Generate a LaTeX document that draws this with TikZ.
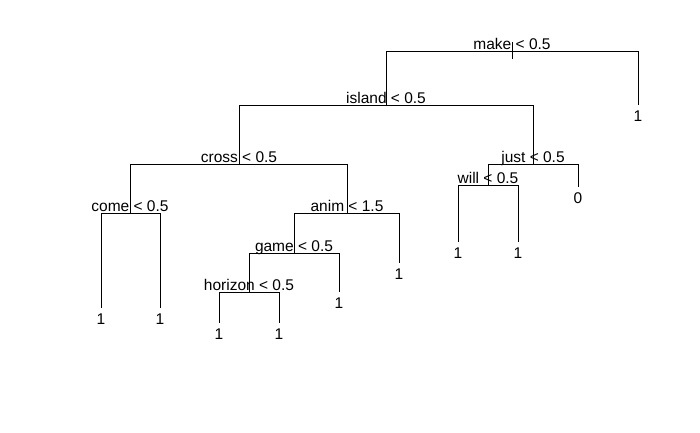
\documentclass[tikz,border=0pt]{standalone}
\usepackage{fontspec}
\setmainfont{Liberation Sans}
\begin{document}
\begin{tikzpicture}[x=1pt,y=-1pt,
  edge/.style={draw=black,line width=1pt},
  split/.style={anchor=base,inner sep=0pt,font=\fontsize{15.5}{18}\selectfont},
  leaf/.style={anchor=base,inner sep=0pt,font=\fontsize{15.5}{18}\selectfont}]
\useasboundingbox[fill=white] (0,0) rectangle (700,432);
% split points
\coordinate (rtop) at (512,42);
\coordinate (rbot) at (512,59);
\coordinate (root) at (512,51);
\coordinate (rootL) at (386,51);
\coordinate (rootR) at (638,51);
\coordinate (island) at (386,105);
\coordinate (islandL) at (239,105);
\coordinate (islandR) at (533,105);
\coordinate (cross) at (239,164);
\coordinate (crossL) at (130,164);
\coordinate (crossR) at (347,164);
\coordinate (come) at (130,213);
\coordinate (comeL) at (101,213);
\coordinate (comeR) at (160,213);
\coordinate (anim) at (347,213);
\coordinate (animL) at (294,213);
\coordinate (animR) at (399,213);
\coordinate (game) at (294,253);
\coordinate (gameL) at (249,253);
\coordinate (gameR) at (339,253);
\coordinate (horizon) at (249,292);
\coordinate (horizonL) at (219,292);
\coordinate (horizonR) at (279,292);
\coordinate (just) at (533,164);
\coordinate (justL) at (488,164);
\coordinate (justR) at (578,164);
\coordinate (will) at (488,185);
\coordinate (willL) at (458,185);
\coordinate (willR) at (518,185);
% leaf ends
\coordinate (l1) at (638,105);
\coordinate (l2) at (101,308);
\coordinate (l3) at (160,308);
\coordinate (l4) at (399,263);
\coordinate (l5) at (339,292);
\coordinate (l6) at (219,323);
\coordinate (l7) at (279,323);
\coordinate (l8) at (578,187);
\coordinate (l9) at (458,242);
\coordinate (l10) at (518,242);
% split labels
\node[split] (tmake) at (512,49) {make < 0.5};
\node[split] (tisland) at (386,103) {island < 0.5};
\node[split] (tcross) at (239,162) {cross < 0.5};
\node[split] (tcome) at (130,211) {come < 0.5};
\node[split] (tanim) at (347,211) {anim < 1.5};
\node[split] (tgame) at (294,251) {game < 0.5};
\node[split] (thorizon) at (249,290) {horizon < 0.5};
\node[split] (tjust) at (533,162) {just < 0.5};
\node[split] (twill) at (488,183) {will < 0.5};
% leaf labels
\node[leaf] (v1) at (638,121) {1};
\node[leaf] (v2) at (101,324) {1};
\node[leaf] (v3) at (160,324) {1};
\node[leaf] (v4) at (399,279) {1};
\node[leaf] (v5) at (339,308) {1};
\node[leaf] (v6) at (219,339) {1};
\node[leaf] (v7) at (279,339) {1};
\node[leaf] (v8) at (578,203) {0};
\node[leaf] (v9) at (458,258) {1};
\node[leaf] (v10) at (518,258) {1};
% edges
\draw[edge] (rtop) -- (rbot);
\draw[edge] (rootL) -- (rootR);
\draw[edge] (rootR) -- (l1);
\draw[edge] (rootL) -- (island);
\draw[edge] (islandL) -- (islandR);
\draw[edge] (islandL) -- (cross);
\draw[edge] (crossL) -- (crossR);
\draw[edge] (crossL) -- (come);
\draw[edge] (comeL) -- (comeR);
\draw[edge] (comeL) -- (l2);
\draw[edge] (comeR) -- (l3);
\draw[edge] (crossR) -- (anim);
\draw[edge] (animL) -- (animR);
\draw[edge] (animR) -- (l4);
\draw[edge] (animL) -- (game);
\draw[edge] (gameL) -- (gameR);
\draw[edge] (gameR) -- (l5);
\draw[edge] (gameL) -- (horizon);
\draw[edge] (horizonL) -- (horizonR);
\draw[edge] (horizonL) -- (l6);
\draw[edge] (horizonR) -- (l7);
\draw[edge] (islandR) -- (just);
\draw[edge] (justL) -- (justR);
\draw[edge] (justR) -- (l8);
\draw[edge] (justL) -- (will);
\draw[edge] (willL) -- (willR);
\draw[edge] (willL) -- (l9);
\draw[edge] (willR) -- (l10);
\end{tikzpicture}
\end{document}
